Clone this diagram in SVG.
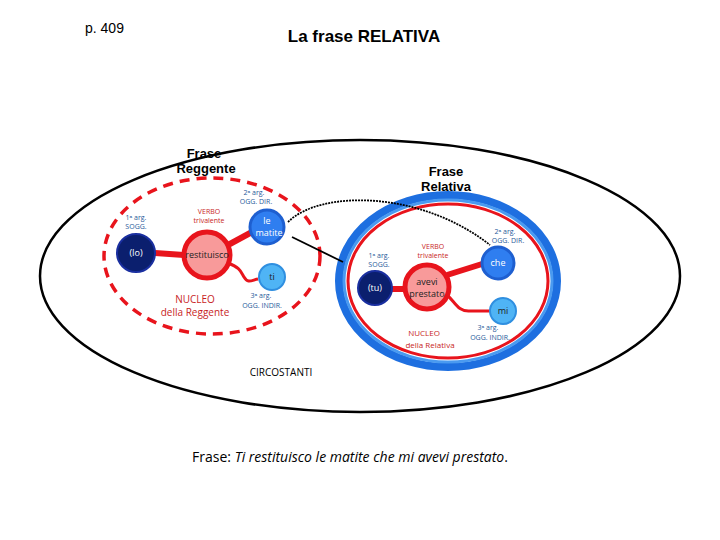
<svg xmlns="http://www.w3.org/2000/svg" width="720" height="540" viewBox="0 0 720 540">
<style>
text{font-family:"Open Sans","Liberation Sans",sans-serif}
.t{font-family:"Liberation Sans",sans-serif}
.h{font-family:"Liberation Sans",sans-serif;font-weight:bold;font-size:13px;text-anchor:middle}
.s{font-size:7px;fill:#1f5a9a;text-anchor:middle}
.r{font-size:7px;fill:#c81e1e;text-anchor:middle}
.w{font-size:9px;fill:#fff;text-anchor:middle}
.k{font-size:9px;fill:#222;text-anchor:middle}
.link{stroke:#e8141c;stroke-width:6;fill:none}
.link2{stroke:#e8141c;stroke-width:3;fill:none}
</style>
<rect width="720" height="540" fill="#fff"/>
<text class="t" x="85" y="33" font-size="14">p. 409</text>
<text class="t" x="364" y="42" font-size="17" font-weight="bold" text-anchor="middle">La frase RELATIVA</text>
<ellipse cx="360" cy="276" rx="320" ry="136" fill="none" stroke="#000" stroke-width="2.5"/>
<g id="reggente">
<ellipse cx="212" cy="256" rx="108" ry="78" fill="none" stroke="#e8141c" stroke-width="3.5" stroke-dasharray="10,7"/>
<text class="h" x="204" y="158">Frase</text>
<text class="h" x="206" y="173">Reggente</text>
<text x="195" y="303" font-size="10" fill="#c81e1e" text-anchor="middle">NUCLEO</text>
<text x="195" y="316" font-size="10" fill="#c81e1e" text-anchor="middle">della Reggente</text>
</g>
<g id="relativa">
<ellipse cx="448" cy="281" rx="109" ry="86" fill="none" stroke="#1e6fe0" stroke-width="8"/>
<ellipse cx="448" cy="281" rx="104" ry="81" fill="none" stroke="#4a9af0" stroke-width="3"/>
<ellipse cx="448" cy="281" rx="100" ry="77" fill="#fff" stroke="#e8141c" stroke-width="3"/>
<text class="h" x="446" y="176">Frase</text>
<text class="h" x="446" y="191">Relativa</text>
<text x="424" y="336" font-size="8" fill="#c81e1e" text-anchor="middle">NUCLEO</text>
<text x="430" y="348" font-size="8" fill="#c81e1e" text-anchor="middle">della Relativa</text>
</g>
<g id="connectors">
<path class="link" d="M155,253 L184,255"/>
<path class="link" d="M228,245 L252,232"/>
<path class="link2" d="M228,263 C240,268 240,270 244,277 C248,284 252,280 258,279"/>
<path class="link" d="M390,289 L405,289"/>
<path class="link" d="M447,275 L482,264"/>
<path class="link2" d="M448,296 C455,302 458,312 470,311 L490,311"/>
<path d="M288,222 C320,190 420,190 490,245" fill="none" stroke="#000" stroke-width="1.8" stroke-dasharray="2,1"/>
<path d="M292,237 L343,262" fill="none" stroke="#000" stroke-width="1.8"/>
</g>
<g id="io"><circle cx="136" cy="253" r="19" fill="#0b1f6e" stroke="#1a2fa0" stroke-width="2"/><text class="w" x="136" y="256">(Io)</text>
<text class="s" x="136" y="220">1ᵃ arg.</text><text class="s" x="136" y="229">SOGG.</text></g>
<g id="restituisco"><circle cx="207" cy="255" r="23" fill="#f89a9a" stroke="#e8141c" stroke-width="5"/><text class="k" x="207" y="258">restituisco</text>
<text class="r" x="209" y="214">VERBO</text><text class="r" x="209" y="223">trivalente</text></g>
<g id="lematite"><circle cx="267" cy="227" r="17" fill="#2f7ef0" stroke="#1e5fd0" stroke-width="3"/><text class="w" x="267" y="224">le</text><text class="w" x="269" y="236">matite</text>
<text class="s" x="254" y="195">2ᵃ arg.</text><text class="s" x="256" y="204">OGG. DIR.</text></g>
<g id="ti"><circle cx="272" cy="277" r="13" fill="#4fb4f5" stroke="#2f8fe0" stroke-width="2"/><text class="k" x="272" y="280">ti</text>
<text class="s" x="261" y="298">3ᵃ arg.</text><text class="s" x="262" y="308">OGG. INDIR.</text></g>
<g id="tu"><circle cx="375" cy="288" r="17" fill="#0b1f6e" stroke="#1a2fa0" stroke-width="2"/><text class="w" x="375" y="291">(tu)</text>
<text class="s" x="379" y="258">1ᵃ arg.</text><text class="s" x="379" y="267">SOGG.</text></g>
<g id="avevi"><circle cx="427" cy="287" r="22" fill="#f89a9a" stroke="#e8141c" stroke-width="5"/><text class="k" x="427" y="285">avevi</text><text class="k" x="427" y="297">prestato</text>
<text class="r" x="433" y="249">VERBO</text><text class="r" x="433" y="258">trivalente</text></g>
<g id="che"><circle cx="498" cy="263" r="16" fill="#2f7ef0" stroke="#1e5fd0" stroke-width="3"/><text class="w" x="498" y="266">che</text>
<text class="s" x="505" y="234">2ᵃ arg.</text><text class="s" x="508" y="243">OGG. DIR.</text></g>
<g id="mi"><circle cx="503" cy="311" r="13" fill="#4fb4f5" stroke="#2f8fe0" stroke-width="2"/><text class="k" x="503" y="314">mi</text>
<text class="s" x="488" y="330">3ᵃ arg.</text><text class="s" x="490" y="340">OGG. INDIR.</text></g>
<text x="281" y="376" font-size="10" text-anchor="middle">CIRCOSTANTI</text>
<text x="350" y="462" font-size="14" text-anchor="middle">Frase: <tspan font-style="italic">Ti restituisco le matite che mi avevi prestato</tspan>.</text>
</svg>
